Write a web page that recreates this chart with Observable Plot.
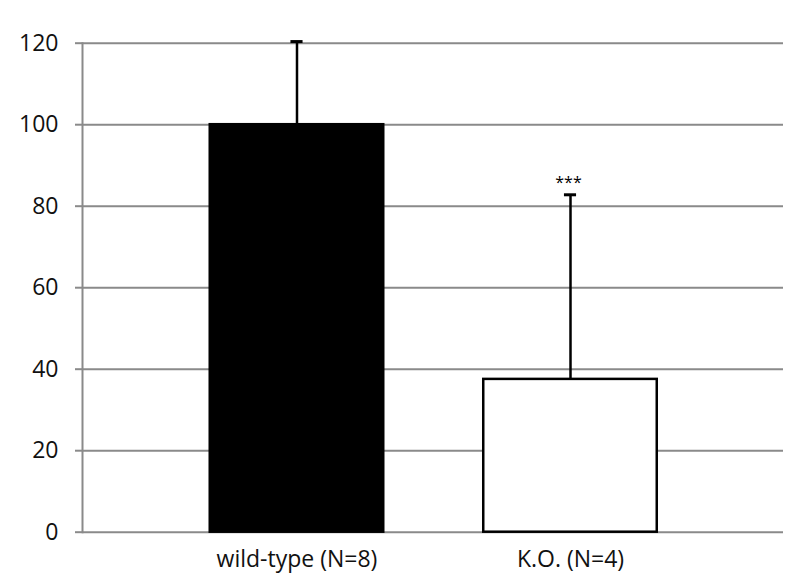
<!DOCTYPE html>
<html>
<head>
<meta charset="utf-8">
<script src="https://cdn.jsdelivr.net/npm/d3@7"></script>
<script src="https://cdn.jsdelivr.net/npm/@observablehq/plot@0.6"></script>
<style>
  html, body { margin: 0; padding: 0; background: #fff; }
  #chart { width: 800px; height: 580px; }
</style>
</head>
<body>
<div id="chart"></div>
<script>
const categories = ["wild-type (N=8)", "K.O. (N=4)"];
const values = [100, 37.5];
const errors = [20.4, 45.3];
const fills = ["black", "white"];
const annotations = ["", "***"];
const yTicks = [0, 20, 40, 60, 80, 100, 120];

const data = categories.map((c, i) => ({
  cat: c, value: values[i], top: values[i] + errors[i], fill: fills[i], note: annotations[i]
}));

const font = "'Open Sans', 'Liberation Sans', sans-serif";
const gridColor = "#8a8a8a";

const chart = Plot.plot({
  width: 800,
  height: 580,
  marginLeft: 82,
  marginRight: 17,
  marginTop: 42.7,
  marginBottom: 48.3,
  style: { fontFamily: font, background: "white" },
  x: { domain: categories, range: [109.75, 756.75], padding: 0.3656, round: false, label: null },
  y: { domain: [0, 120], label: null },
  marks: [
    Plot.ruleY(yTicks, { stroke: gridColor, strokeWidth: 2 }),
    Plot.frame({ anchor: "left", stroke: gridColor, strokeWidth: 2 }),
    Plot.axisY({
      ticks: yTicks, tickSize: 7, tickPadding: 17, stroke: gridColor, strokeWidth: 2,
      fontSize: 23, fill: "#111", label: null
    }),
    Plot.axisX({
      tickSize: 0, tickPadding: 18, fontSize: 23, fill: "#111", label: null,
      style: { letterSpacing: "1.5px" }
    }),
    Plot.ruleX(data, { x: "cat", y1: "value", y2: "top", stroke: "black", strokeWidth: 2.5 }),
    Plot.tickY(data, { x: "cat", y: "top", stroke: "black", strokeWidth: 3, insetLeft: 80.7, insetRight: 80.7 }),
    Plot.barY(data, { x: "cat", y: "value", fill: "fill", stroke: "black", strokeWidth: 2.5 }),
    Plot.text(data, { x: "cat", y: "top", text: "note", dy: -12, dx: -2, fontSize: 16, fill: "black" })
  ]
});
document.getElementById("chart").appendChild(chart);
</script>
</body>
</html>
